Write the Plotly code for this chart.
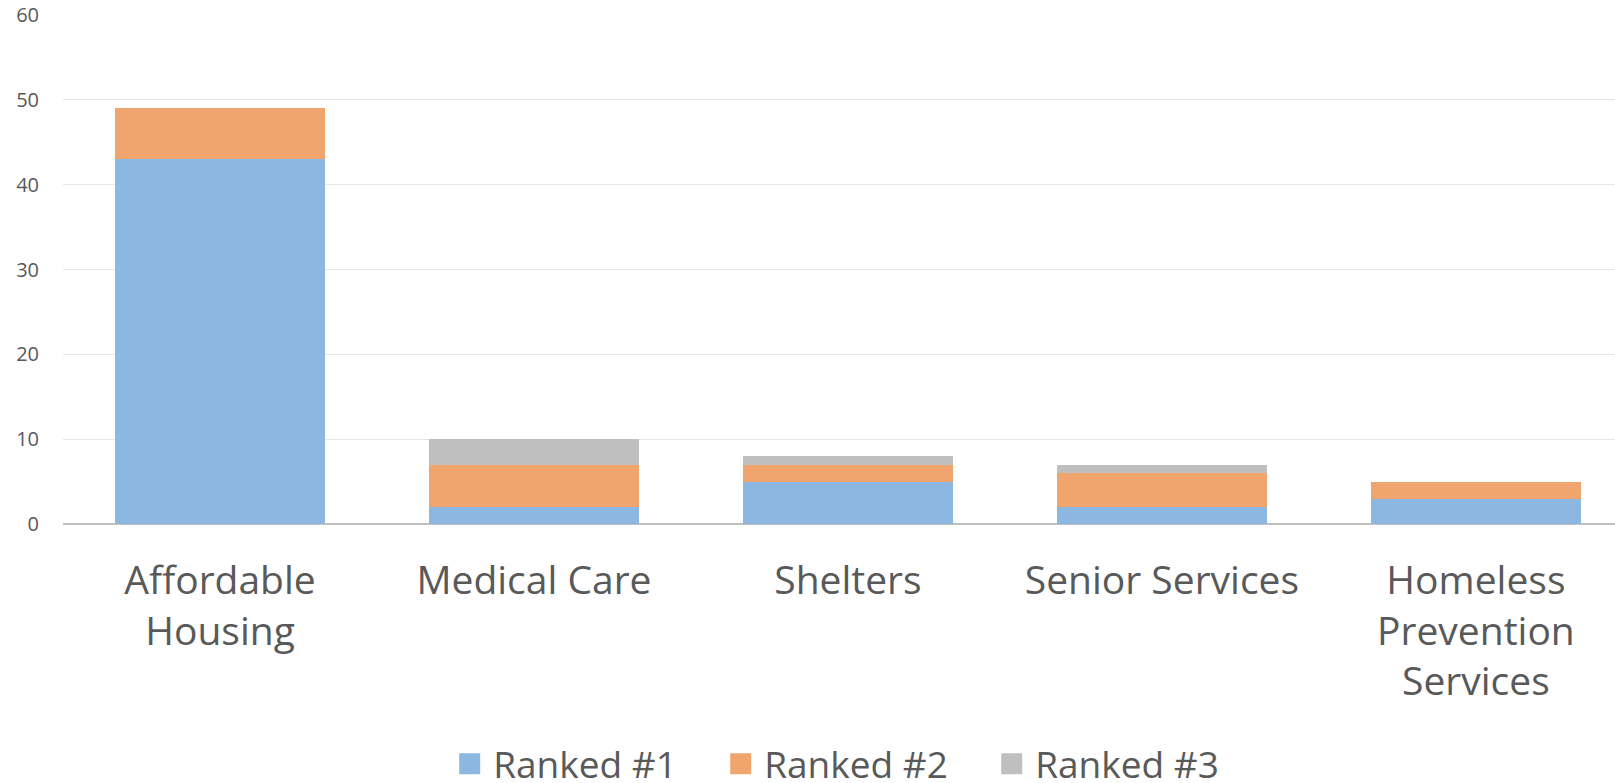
import plotly.graph_objects as go

categories = ["Affordable<br>Housing", "Medical Care", "Shelters", "Senior Services",
              "Homeless<br>Prevention<br>Services"]
ranked1 = [43, 2, 5, 2, 3]
ranked2 = [6, 5, 2, 4, 2]
ranked3 = [0, 3, 1, 1, 0]
series_names = ["Ranked #1", "Ranked #2", "Ranked #3"]
colors = ["#8cb7e0", "#f0a46e", "#bfbfbf"]
y_ticks = [0, 10, 20, 30, 40, 50, 60]

fig = go.Figure()
for name, vals, col in zip(series_names, [ranked1, ranked2, ranked3], colors):
    fig.add_trace(go.Bar(name=name, x=categories, y=vals, marker_color=col,
                         marker_line_width=0, showlegend=False))
# legend entries with larger square swatches
for name, col in zip(series_names, colors):
    fig.add_trace(go.Scatter(name=name, x=[None], y=[None], mode="markers",
                             marker=dict(symbol="square", size=22, color=col,
                                         line=dict(color=col, width=6)),
                             showlegend=True))

fig.update_layout(
    barmode="stack",
    bargap=0.33,
    width=1615, height=783,
    margin=dict(l=63, r=0, t=15, b=259, autoexpand=False),
    paper_bgcolor="white", plot_bgcolor="white",
    font=dict(family="Open Sans", color="#595959"),
    legend=dict(orientation="h", x=0.528, xanchor="center", xref="container",
                y=0.024, yanchor="middle", yref="container",
                font=dict(size=37, color="#595959"), traceorder="normal",
                itemsizing="trace", itemwidth=37,
                entrywidth=219, entrywidthmode="pixels"),
    showlegend=True,
)
fig.update_xaxes(range=[-0.5, 4.443], tickfont=dict(size=39, color="#595959"),
                 showline=False, ticks="", ticklabelstandoff=30, automargin=False,
                 showgrid=False)
fig.update_yaxes(range=[0, 60], tickvals=y_ticks, tickfont=dict(size=20, color="#595959"),
                 gridcolor="#e6e6e6", gridwidth=1, zeroline=True, zerolinecolor="#bfbfbf",
                 zerolinewidth=1.5, ticks="", ticklabelstandoff=23, automargin=False,
                 ticklabeloverflow="allow")
fig.write_html("out.html", config={"displayModeBar": False},
               post_script="document.body.style.margin='0';document.body.style.overflow='hidden';")
